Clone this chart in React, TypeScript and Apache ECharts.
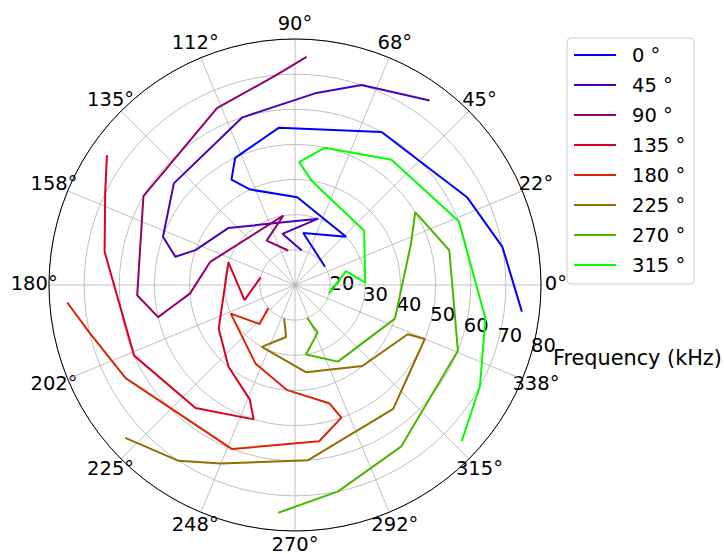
import React, { useEffect, useRef } from 'react';
import * as echarts from 'echarts';

// Frequency steps (kHz) shared by every source direction
const FREQUENCIES = [20, 25, 30, 35, 40, 45, 50, 55, 60, 65, 70, 75];

// Source directions (degrees) and their line colours
const SOURCE_ANGLES = [0, 45, 90, 135, 180, 225, 270, 315];
const SERIES_COLORS = ['#0000ff', '#4900b6', '#92006d', '#db0024', '#db2400', '#926d00', '#49b600', '#00ff00'];

// Estimated direction (degrees) at each frequency, one array per source direction
const ANGLES_0 = [31.4, 81.0, 43.4, 88.5, 115.1, 121.1, 115.2, 95.8, 60.5, 26.9, 10.4, 353.3];
const ANGLES_45 = [78.9, 103.8, 70.7, 139.6, 160.7, 166.7, 159.9, 140.0, 107.4, 83.6, 71.6, 53.9];
const ANGLES_90 = [101.1, 122.6, 99.6, 164.7, 184.7, 189.6, 193.2, 183.7, 149.6, 113.8, 95.0, 87.1];
const ANGLES_135 = [167.4, 196.7, 161.3, 209.7, 230.9, 248.4, 252.9, 231.0, 203.7, 170.1, 154.2, 145.4];
const ANGLES_180 = [220.7, 227.8, 204.0, 243.2, 265.8, 286.1, 289.3, 278.8, 249.0, 208.8, 193.1, 184.4];
const ANGLES_225 = [251.9, 260.3, 241.8, 277.1, 309.8, 336.4, 337.4, 308.4, 274.3, 247.4, 236.5, 222.0];
const ANGLES_270 = [290.3, 295.4, 279.0, 299.3, 341.4, 19.5, 31.2, 12.7, 338.0, 303.4, 281.8, 265.8];
const ANGLES_315 = [345.3, 15.2, 1.9, 38.1, 80.8, 88.1, 77.7, 52.4, 21.3, 350.1, 331.3, 316.9];

const SERIES_ANGLES = [ANGLES_0, ANGLES_45, ANGLES_90, ANGLES_135, ANGLES_180, ANGLES_225, ANGLES_270, ANGLES_315];

// Angular tick labels (every 22.5 degrees)
const ANGLE_LABELS = ['0°', '22°', '45°', '68°', '90°', '112°', '135°', '158°', '180°', '202°', '225°', '248°', '270°', '292°', '315°', '338°'];
const ANGLE_STEP = 22.5;

// Radial axis
const R_MIN = 10;
const R_MAX = 80;
const R_STEP = 10;
const R_NAME = 'Frequency (kHz)';

// Layout
const FONT = 'DejaVu Sans';
const FONT_SIZE = 19.5;
const NAME_FONT_SIZE = 20.8;
const CENTER: [number, number] = [295, 285];
const RADIUS = 246;
const ANGLE_LABEL_MARGIN = -50;
const ANGLE_LABEL_DIST = 260.8;
const ANGLE_LABEL_LIFT = 1.2;
const LABEL_BOX_H = 16;
const RLABEL_CENTER: [number, number] = [308.3, 273.6];
const RLABEL_ANGLE = -17.1;

function textWidth(s: string): number {
  const ctx = document.createElement('canvas').getContext('2d');
  if (!ctx) return s.length * FONT_SIZE * 0.6;
  ctx.font = `${FONT_SIZE}px "${FONT}"`;
  return ctx.measureText(s).width;
}

// Per-label padding so every angle label is centred on a circle just outside the spine
function angleLabelRich() {
  const rich: Record<string, any> = {};
  ANGLE_LABELS.forEach((label, i) => {
    const t = (i * ANGLE_STEP * Math.PI) / 180;
    const rp = RADIUS + ANGLE_LABEL_MARGIN;
    const px = rp * Math.cos(t);
    const py = -rp * Math.sin(t);
    const cx = ANGLE_LABEL_DIST * Math.cos(t);
    const cy = -ANGLE_LABEL_DIST * Math.sin(t) - ANGLE_LABEL_LIFT;
    const w = textWidth(label);
    const h = LABEL_BOX_H;
    const hAlign = Math.abs(px) / RADIUS < 0.3 ? 'center' : px > 0 ? 'left' : 'right';
    const vAlign = Math.abs(py) / RADIUS < 0.3 ? 'middle' : py > 0 ? 'top' : 'bottom';
    let l = 0, r = 0, tp = 0, b = 0;
    if (hAlign === 'left') l = cx - px - w / 2;
    else if (hAlign === 'right') r = px - cx - w / 2;
    else if (cx > px) l = 2 * (cx - px);
    else r = 2 * (px - cx);
    if (vAlign === 'top') tp = cy - py - h / 2;
    else if (vAlign === 'bottom') b = py - cy - h / 2;
    else if (cy > py) tp = 2 * (cy - py);
    else b = 2 * (py - cy);
    rich['a' + i] = {
      fontSize: FONT_SIZE,
      fontFamily: FONT,
      color: '#000',
      height: h,
      padding: [Math.max(0, tp), Math.max(0, r), Math.max(0, b), Math.max(0, l)],
    };
  });
  return rich;
}

export default function App() {
  const ref = useRef<HTMLDivElement>(null);

  useEffect(() => {
    if (!ref.current) return;
    const chart = echarts.init(ref.current, undefined, { renderer: 'svg' });
    const names = SOURCE_ANGLES.map((a) => `${a} °`);

    const series = SERIES_ANGLES.map((angles, i) => ({
      type: 'line',
      name: names[i],
      coordinateSystem: 'polar',
      polarIndex: 0,
      data: FREQUENCIES.map((f, j) => [f, angles[j]]),
      symbol: 'none',
      showSymbol: false,
      color: SERIES_COLORS[i],
      lineStyle: { width: 2, color: SERIES_COLORS[i] },
      itemStyle: { color: SERIES_COLORS[i] },
      z: 3,
    }));

    chart.setOption({
      animation: false,
      textStyle: { fontFamily: FONT },
      polar: [
        { center: CENTER, radius: RADIUS },
        { center: RLABEL_CENTER, radius: RADIUS },
      ],
      angleAxis: [
        {
          polarIndex: 0,
          type: 'value',
          min: 0,
          max: 360,
          interval: ANGLE_STEP,
          startAngle: 0,
          clockwise: false,
          axisLine: { show: true, lineStyle: { color: '#000', width: 1 } },
          axisTick: { show: false },
          splitLine: { show: true, lineStyle: { color: '#b0b0b0', width: 0.8 } },
          axisLabel: {
            show: true,
            margin: ANGLE_LABEL_MARGIN,
            formatter: (v: number) => {
              const i = Math.round(v / ANGLE_STEP);
              if (i >= ANGLE_LABELS.length) return '';
              return `{a${i}|${ANGLE_LABELS[i]}}`;
            },
            rich: angleLabelRich(),
          },
          z: 1,
        },
        {
          polarIndex: 1,
          type: 'value',
          min: 0,
          max: 360,
          startAngle: RLABEL_ANGLE,
          show: false,
        },
      ],
      radiusAxis: [
        {
          polarIndex: 0,
          type: 'value',
          min: R_MIN,
          max: R_MAX,
          interval: R_STEP,
          axisLine: { show: false },
          axisTick: { show: false },
          axisLabel: { show: false },
          splitLine: { show: true, lineStyle: { color: '#b0b0b0', width: 0.8 } },
        },
        {
          polarIndex: 1,
          type: 'value',
          min: R_MIN,
          max: R_MAX,
          interval: R_STEP,
          axisLine: { show: false },
          axisTick: { show: false },
          splitLine: { show: false },
          axisLabel: {
            show: true,
            margin: 0,
            align: 'center',
            verticalAlign: 'middle',
            fontSize: FONT_SIZE,
            fontFamily: FONT,
            color: '#000',
            formatter: (v: number) => (v === R_MIN ? '' : String(v)),
          },
          name: `{n|${R_NAME}}`,
          nameLocation: 'end',
          nameGap: 10,
          nameMoveOverlap: false,
          nameTextStyle: {
            fontSize: NAME_FONT_SIZE,
            fontFamily: FONT,
            color: '#000',
            rich: {
              n: {
                fontSize: NAME_FONT_SIZE,
                fontFamily: FONT,
                color: '#000',
                height: 21,
                padding: [18, 0, 0, 0],
              },
            },
          },
        },
      ],
      legend: {
        orient: 'vertical',
        left: 567,
        top: 38,
        padding: [7, 9, 9, 7],
        icon: 'rect',
        itemWidth: 42,
        itemHeight: 2,
        itemGap: 10,
        borderColor: '#cccccc',
        borderWidth: 1,
        borderRadius: 4,
        backgroundColor: 'rgba(255,255,255,0.8)',
        textStyle: {
          fontFamily: FONT,
          fontSize: FONT_SIZE,
          color: '#000',
          lineHeight: 20,
          padding: [0, 0, 0, 11],
        },
        data: names,
      },
      series,
    });

    return () => chart.dispose();
  }, []);

  return (
    <div
      ref={ref}
      style={{ position: 'fixed', left: 0, top: 0, width: 724, height: 554, background: '#fff' }}
    />
  );
}
